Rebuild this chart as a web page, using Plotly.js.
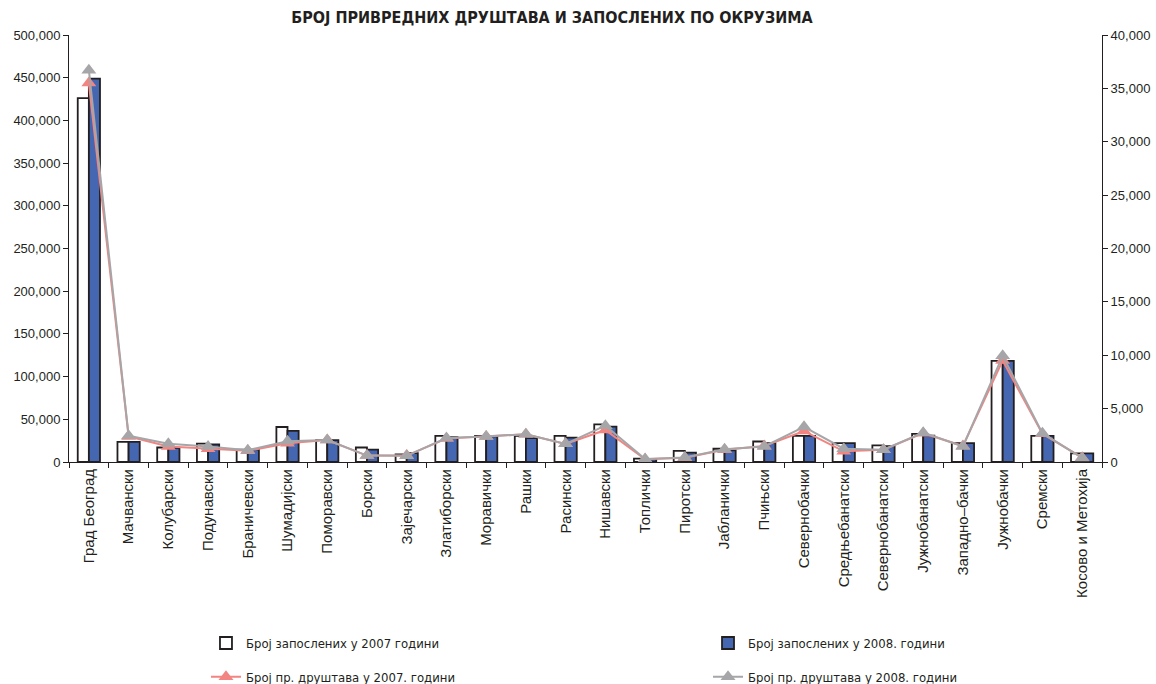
<!DOCTYPE html>
<html>
<head>
<meta charset="utf-8">
<script src="https://cdn.plot.ly/plotly-3.0.1.min.js"></script>
<style>html,body{margin:0;padding:0;background:#fff;}#chart{width:1156px;height:684px;}</style>
</head>
<body>
<div id="chart"></div>
<script>
const categories = ["Град Београд","Мачвански","Колубарски","Подунавски","Браничевски","Шумадијски","Поморавски","Борски","Зајечарски","Златиборски","Моравички","Рашки","Расински","Нишавски","Топлички","Пиротски","Јабланички","Пчињски","Севернобачки","Средњебанатски","Севернобанатски","Јужнобанатски","Западно–бачки","Јужнобачки","Сремски","Косово и Метохија"];
const employees2007 = [426000,23500,17000,21500,14500,41000,25500,17000,9000,30500,30500,30500,30500,44000,4000,13000,15500,24000,30500,22000,19500,33000,22000,118500,30500,10000];
const employees2008 = [449000,23500,16500,20500,14500,36500,25500,14500,10500,29000,30000,28000,28500,41500,3000,11000,13500,22000,30500,22000,18700,31000,22000,118500,30500,10000];
const firms2007 = [35500,2400,1450,1250,1050,1750,2050,600,600,2200,2400,2600,1700,3000,250,400,1150,1500,2900,1000,1150,2700,1500,9500,2650,400];
const firms2008 = [36700,2450,1700,1450,1100,1950,2050,600,580,2250,2400,2600,1700,3400,280,420,1200,1450,3300,1250,1150,2750,1450,9950,2700,380];

const condensed = "'Liberation Sans Narrow', 'DejaVu Sans Condensed', 'Liberation Sans', Arial, sans-serif";
const legendFont = {family: condensed, size: 13, color: '#231f20'};
const axisFont = {family: "'Liberation Sans', Arial, sans-serif", size: 13, color: '#231f20'};
const ink = '#231f20';

const traces = [
  {type:'bar', x:categories, y:employees2007, name:'Број запослених у 2007 години',
   marker:{color:'#ffffff', line:{color:ink, width:1.8}}, legend:'legend'},
  {type:'bar', x:categories, y:employees2008, name:'Број запослених у 2008. години',
   marker:{color:'#4566b0', line:{color:ink, width:1.8}}, legend:'legend2'},
  {type:'scatter', mode:'lines+markers', x:categories, y:firms2007, yaxis:'y2', name:'Број пр. друштава у 2007. години',
   line:{color:'#f28582', width:2}, marker:{symbol:'triangle-up', size:13, color:'#f28582'}, legend:'legend3'},
  {type:'scatter', mode:'lines+markers', x:categories, y:firms2008, yaxis:'y2', name:'Број пр. друштава у 2008. години',
   line:{color:'#a6a6a8', width:2}, marker:{symbol:'triangle-up', size:13, color:'#a6a6a8'}, legend:'legend4'}
];

function leg(x, y){
  return {x:x, y:y, xanchor:'left', yanchor:'middle', xref:'paper', yref:'paper', orientation:'v',
          font:legendFont, bgcolor:'rgba(0,0,0,0)', borderwidth:0};
}

const innerTicks = {ticks:'inside', ticklen:4, tickcolor:ink, showticklabels:false, showline:false, showgrid:false, zeroline:false, automargin:false};

const layout = {
  width:1156, height:684,
  margin:{l:69, r:54, t:35, b:222, autoexpand:false},
  paper_bgcolor:'#ffffff', plot_bgcolor:'#ffffff',
  title:{text:'<b>БРОЈ ПРИВРЕДНИХ ДРУШТАВА И ЗАПОСЛЕНИХ ПО ОКРУЗИМА</b>', x:0.4775, xanchor:'center', xref:'container',
         y:0.974, yanchor:'middle', yref:'container',
         font:{family:condensed, size:16, color:ink}},
  barmode:'group', bargap:0.44, bargroupgap:0,
  showlegend:true,
  xaxis:{type:'category', showline:true, linecolor:ink, linewidth:1, ticks:'outside', ticklen:5, tickcolor:ink,
         tickson:'boundaries', tickangle:-90, automargin:false,
         tickfont:{family:"'Liberation Sans', Arial, sans-serif", size:15, color:ink},
         showgrid:false, zeroline:false, range:[-0.5, 25.5]},
  yaxis:{range:[0,500000], dtick:50000, tickformat:',', showline:true, linecolor:ink, linewidth:1, automargin:false,
         ticks:'outside', ticklen:5, tickcolor:ink, tickfont:axisFont, showgrid:false, zeroline:false},
  yaxis2:{range:[0,40000], dtick:5000, tickformat:',', overlaying:'y', side:'right', showline:true, linecolor:ink, linewidth:1,
          automargin:false, ticks:'outside', ticklen:5, tickcolor:ink, tickfont:axisFont, showgrid:false, zeroline:false},
  yaxis3:Object.assign({range:[0,500000], dtick:50000, overlaying:'y', side:'left', anchor:'x'}, innerTicks),
  yaxis4:Object.assign({range:[0,40000], dtick:5000, overlaying:'y', side:'right', anchor:'x'}, innerTicks),
  xaxis2:Object.assign({type:'linear', range:[-0.5,25.5], tick0:0.5, dtick:1, overlaying:'x', side:'bottom', anchor:'y'}, innerTicks),
  legend:leg(0.1326, -0.424),
  legend2:leg(0.6186, -0.424),
  legend3:leg(0.1326, -0.503),
  legend4:leg(0.6186, -0.503)
};

Plotly.newPlot('chart', traces, layout, {displayModeBar:false, staticPlot:true});
</script>
</body>
</html>
